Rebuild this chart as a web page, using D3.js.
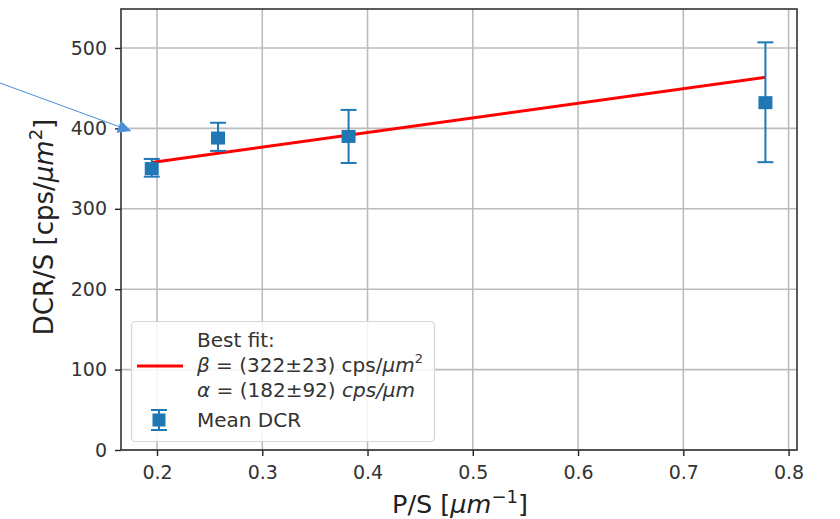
<!DOCTYPE html>
<html>
<head>
<meta charset="utf-8">
<script src="https://cdn.jsdelivr.net/npm/d3@7"></script>
<style>
  body { margin: 0; background: #fff; }
  text { font-family: "DejaVu Sans", sans-serif; }
</style>
</head>
<body>
<svg id="chart" width="840" height="519"></svg>
<script>
// data
const ps = [0.195, 0.258, 0.382, 0.778];
const dcrMean = [350, 388, 390, 432];
const errLow = [340, 372, 357, 358];
const errHigh = [362, 407, 423, 507];
const fitAlpha = 182, fitBeta = 322;
const xTicks = [0.2, 0.3, 0.4, 0.5, 0.6, 0.7, 0.8];
const yTicks = [0, 100, 200, 300, 400, 500];

const svg = d3.select("#chart");
const plotL = 121, plotR = 797, plotT = 9, plotB = 450;

const x = d3.scaleLinear().domain([0.1658, 0.808]).range([plotL, plotR]);
const y = d3.scaleLinear().domain([0, 548.5]).range([plotB, plotT]);

// grid
svg.append("g").selectAll("line").data(xTicks).join("line")
  .attr("x1", d => x(d)).attr("x2", d => x(d)).attr("y1", plotT).attr("y2", plotB)
  .attr("stroke", "#bcbcbc").attr("stroke-width", 1.6);
svg.append("g").selectAll("line").data(yTicks).join("line")
  .attr("x1", plotL).attr("x2", plotR).attr("y1", d => y(d)).attr("y2", d => y(d))
  .attr("stroke", "#bcbcbc").attr("stroke-width", 1.6);

// axes
const xAxis = svg.append("g").attr("transform", `translate(0,${plotB})`)
  .call(d3.axisBottom(x).tickValues(xTicks).tickFormat(d3.format(".1f")).tickSize(6).tickPadding(10).tickSizeOuter(0));
const yAxis = svg.append("g").attr("transform", `translate(${plotL},0)`)
  .call(d3.axisLeft(y).tickValues(yTicks).tickSize(6).tickPadding(8).tickSizeOuter(0));
[xAxis, yAxis].forEach(a => {
  a.select(".domain").remove();
  a.selectAll(".tick line").attr("stroke", "#222").attr("stroke-width", 1.4);
  a.selectAll(".tick text").attr("font-size", 19).attr("fill", "#333")
    .attr("font-family", "DejaVu Sans, sans-serif");
});

// frame
svg.append("rect").attr("x", plotL).attr("y", plotT)
  .attr("width", plotR - plotL).attr("height", plotB - plotT)
  .attr("fill", "none").attr("stroke", "#333").attr("stroke-width", 1.6);

// fit line
const xf = d3.extent(ps);
svg.append("line")
  .attr("x1", x(xf[0])).attr("y1", y(fitBeta + fitAlpha * xf[0]))
  .attr("x2", x(xf[1])).attr("y2", y(fitBeta + fitAlpha * xf[1]))
  .attr("stroke", "#ff0000").attr("stroke-width", 3);

// error bars
const blue = "#1f77b4";
const eb = svg.append("g").attr("stroke", blue).attr("stroke-width", 2);
ps.forEach((p, i) => {
  eb.append("line").attr("x1", x(p)).attr("x2", x(p)).attr("y1", y(errLow[i])).attr("y2", y(errHigh[i]));
  [errLow[i], errHigh[i]].forEach(v => {
    eb.append("line").attr("x1", x(p) - 8).attr("x2", x(p) + 8).attr("y1", y(v)).attr("y2", y(v));
  });
});
svg.append("g").selectAll("rect").data(ps).join("rect")
  .attr("x", d => x(d) - 7).attr("y", (d, i) => y(dcrMean[i]) - 6.5)
  .attr("width", 14).attr("height", 13).attr("fill", blue);

// legend
const lg = svg.append("g");
lg.append("rect").attr("x", 131.5).attr("y", 321.5).attr("width", 303).attr("height", 120)
  .attr("rx", 4).attr("fill", "#fff").attr("fill-opacity", 0.85)
  .attr("stroke", "#d6d6d6").attr("stroke-width", 1.2);
lg.append("line").attr("x1", 137).attr("x2", 183).attr("y1", 366).attr("y2", 366)
  .attr("stroke", "#ff0000").attr("stroke-width", 3);
lg.append("line").attr("x1", 159).attr("x2", 159).attr("y1", 410).attr("y2", 430)
  .attr("stroke", blue).attr("stroke-width", 2);
[410, 430].forEach(v => lg.append("line").attr("x1", 151).attr("x2", 167).attr("y1", v).attr("y2", v)
  .attr("stroke", blue).attr("stroke-width", 2));
lg.append("rect").attr("x", 152.5).attr("y", 413.5).attr("width", 13).attr("height", 13).attr("fill", blue);

const lt = lg.append("g").attr("font-size", 20).attr("fill", "#333");
lt.append("text").attr("x", 197).attr("y", 347).text("Best fit:");
const t2 = lt.append("text").attr("x", 197).attr("y", 372);
t2.append("tspan").attr("font-style", "italic").text("β");
t2.append("tspan").text(" = (322±23) cps/");
t2.append("tspan").attr("font-style", "italic").text("μm");
t2.append("tspan").attr("font-size", 13).attr("dy", -9).text("2");
const t3 = lt.append("text").attr("x", 197).attr("y", 397);
t3.append("tspan").attr("font-style", "italic").text("α");
t3.append("tspan").text(" = (182±92) ");
t3.append("tspan").attr("font-style", "italic").text("cps/μm");
lt.append("text").attr("x", 197).attr("y", 427).text("Mean DCR");

// axis labels
const xl = svg.append("text").attr("x", 460).attr("y", 513).attr("text-anchor", "middle")
  .attr("font-size", 25.5).attr("fill", "#222");
xl.append("tspan").text("P/S [");
xl.append("tspan").attr("font-style", "italic").text("μm");
xl.append("tspan").attr("font-size", 18).attr("dy", -10).text("−1");
xl.append("tspan").attr("dy", 10).text("]");

const yl = svg.append("text").attr("transform", "translate(53,227) rotate(-90)")
  .attr("text-anchor", "middle").attr("font-size", 26).attr("fill", "#222");
yl.append("tspan").text("DCR/S [cps/");
yl.append("tspan").attr("font-style", "italic").text("μm");
yl.append("tspan").attr("font-size", 18).attr("dy", -11).text("2");
yl.append("tspan").attr("dy", 11).text("]");

// annotation arrow
const ac = "#4a8fd8";
svg.append("defs").append("marker").attr("id", "ah")
  .attr("viewBox", "0 0 10 10").attr("refX", 10).attr("refY", 5)
  .attr("markerWidth", 18).attr("markerHeight", 13).attr("markerUnits", "userSpaceOnUse")
  .attr("orient", "auto")
  .append("path").attr("d", "M0,0 L10,5 L0,10 z").attr("fill", ac);
svg.append("line").attr("x1", 0).attr("y1", 83).attr("x2", 131).attr("y2", 131)
  .attr("stroke", ac).attr("stroke-width", 1).attr("marker-end", "url(#ah)");
</script>
</body>
</html>
